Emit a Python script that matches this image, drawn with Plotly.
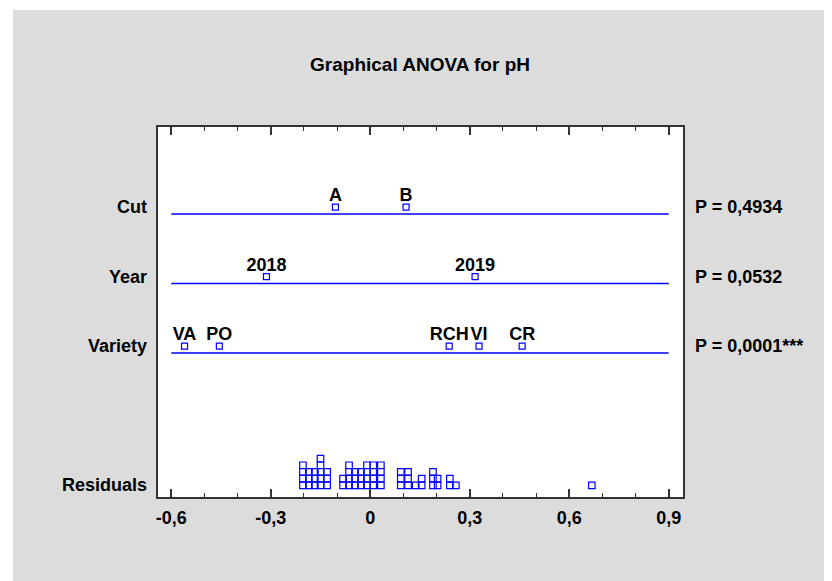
import plotly.graph_objects as go

# ---------------- data ----------------
title_text = "Graphical ANOVA for pH"

factor_names = ["Cut", "Year", "Variety"]
factor_rows = [3, 2, 1]
p_value_labels = ["P = 0,4934", "P = 0,0532", "P = 0,0001***"]

cut_levels = ["A", "B"]
cut_effects = [-0.105, 0.108]

year_levels = ["2018", "2019"]
year_effects = [-0.313, 0.316]

variety_levels = ["VA", "PO", "RCH", "VI", "CR"]
variety_effects = [-0.560, -0.455, 0.238, 0.328, 0.458]

# residual dot-plot: distinct (binned) residual values and how many fall there
residual_values = [-0.203, -0.185, -0.167, -0.150, -0.130,
                   -0.082, -0.064, -0.046, -0.028, -0.010, 0.009, 0.032,
                   0.092, 0.114, 0.137, 0.155,
                   0.189, 0.203,
                   0.240, 0.258,
                   0.668]
residual_counts = [4, 3, 3, 5, 3,
                   2, 4, 3, 3, 4, 4, 4,
                   3, 3, 1, 2,
                   3, 2,
                   2, 1,
                   1]

x_tick_values = [-0.6, -0.3, 0.0, 0.3, 0.6, 0.9]
x_tick_labels = ["-0,6", "-0,3", "0", "0,3", "0,6", "0,9"]

# ---------------- styling ----------------
FONT = "Liberation Sans, Arial, sans-serif"
BLUE = "#0000ff"
W, H = 832, 581
PW, PH = 525, 370
ML, MT = 150, 119
MR = W - ML - PW
MB = H - MT - PH
x_range = [-0.640, 0.943]
y_range = [-1.072, 4.252]
marker_offset = 0.10
label_offset = 0.25
res_base = -0.904
res_step = 0.0964

fig = go.Figure()

effects_sets = [(cut_levels, cut_effects), (year_levels, year_effects),
                (variety_levels, variety_effects)]

line_lo, line_hi = x_tick_values[0], x_tick_values[-1]
for row, (levels, effects) in zip(factor_rows, effects_sets):
    fig.add_trace(go.Scatter(
        x=[line_lo, line_hi], y=[row, row], mode="lines",
        line=dict(color=BLUE, width=1.3), hoverinfo="skip", showlegend=False))
    fig.add_trace(go.Scatter(
        x=effects, y=[row + marker_offset] * len(effects),
        mode="markers",
        marker=dict(symbol="square-open", size=6, color=BLUE,
                    line=dict(width=1.2, color=BLUE)),
        showlegend=False))
    fig.add_trace(go.Scatter(
        x=effects, y=[row + label_offset] * len(effects),
        mode="text",
        text=["<b>%s</b>" % s for s in levels],
        textposition="middle center",
        textfont=dict(family=FONT, size=18, color="black"),
        hoverinfo="skip", showlegend=False))

rx, ry = [], []
for v, c in zip(residual_values, residual_counts):
    for k in range(c):
        rx.append(v)
        ry.append(res_base + k * res_step)
fig.add_trace(go.Scatter(
    x=rx, y=ry, mode="markers",
    marker=dict(symbol="square-open", size=6.5, color=BLUE,
                line=dict(width=1.2, color=BLUE)),
    showlegend=False))

# y-side labels and p-values
label_rows = [r + marker_offset for r in factor_rows] + [res_base]
label_texts = factor_names + ["Residuals"]
for yv, t in zip(label_rows, label_texts):
    fig.add_annotation(x=0, xref="paper", y=yv, yref="y", text="<b>%s</b>" % t,
                       showarrow=False, xanchor="right", yanchor="middle",
                       xshift=-9, font=dict(family=FONT, size=18, color="black"))
for yv, t in zip([r + marker_offset for r in factor_rows], p_value_labels):
    fig.add_annotation(x=1, xref="paper", y=yv, yref="y", text="<b>%s</b>" % t,
                       showarrow=False, xanchor="left", yanchor="middle",
                       xshift=10, font=dict(family=FONT, size=18, color="black"))

# thin white strips at the left and top edges of the gray page
fig.add_shape(type="rect", xref="paper", yref="paper",
              x0=(0 - ML) / PW - 0.01, x1=(5 - ML) / PW,
              y0=-MB / PH - 0.01, y1=1 + MT / PH + 0.01,
              fillcolor="white", line=dict(width=0), layer="below")
fig.add_shape(type="rect", xref="paper", yref="paper",
              x0=(0 - ML) / PW - 0.01, x1=1 + MR / PH + 0.01,
              y0=1 + (MT - 2) / PH, y1=1 + MT / PH + 0.01,
              fillcolor="white", line=dict(width=0), layer="below")

fig.update_layout(
    width=W, height=H,
    margin=dict(l=ML, r=MR, t=MT, b=MB, autoexpand=False),
    paper_bgcolor="#dcdcdc", plot_bgcolor="white",
    title=dict(text="<b>%s</b>" % title_text, x=412 / W, xanchor="center",
               y=1 - 56 / H, yanchor="middle", yref="container",
               font=dict(family=FONT, size=19, color="black")),
    font=dict(family=FONT, color="black"),
    showlegend=False,
)
fig.update_xaxes(
    range=x_range, showgrid=False, zeroline=False,
    showline=True, linecolor="#333333", linewidth=1.5, mirror="ticks",
    ticks="inside", ticklen=8, tickwidth=1.5, tickcolor="#333333",
    tickvals=x_tick_values, ticktext=["<b>%s</b>" % s for s in x_tick_labels],
    tickfont=dict(family=FONT, size=18, color="black"),
    ticklabelstandoff=4,
    minor=dict(dtick=0.1, tick0=0, ticks="inside", ticklen=4, tickwidth=1.2,
               tickcolor="#333333"),
)
fig.update_yaxes(
    range=y_range, showgrid=False, zeroline=False,
    showline=True, linecolor="#333333", linewidth=1.5, mirror=True,
    showticklabels=False, ticks="",
)

fig.write_html("out.html")
